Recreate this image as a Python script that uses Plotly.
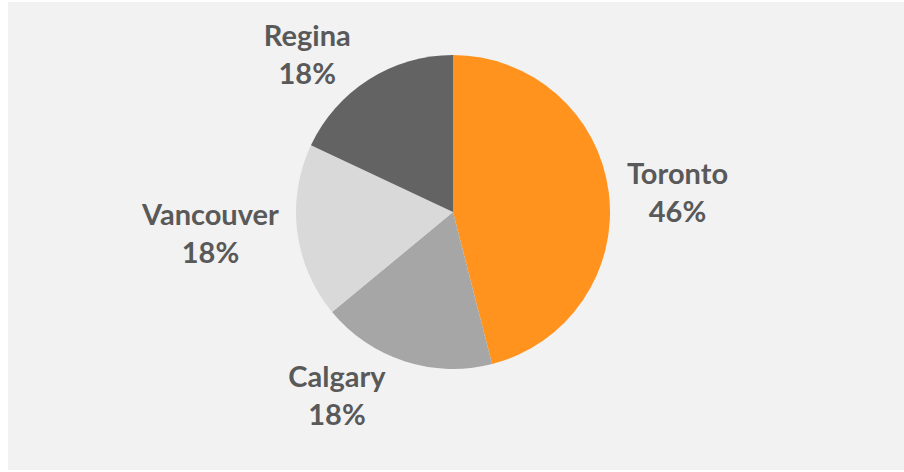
import plotly.graph_objects as go

cities = ["Toronto", "Calgary", "Vancouver", "Regina"]
shares = [46, 18, 18, 18]
colors = ["#ff931e", "#a6a6a6", "#d9d9d9", "#636363"]

W, H = 904, 472
cx, cy, r = 453, 212, 157  # pie centre and radius in px

fig = go.Figure(
    go.Pie(
        labels=cities,
        values=shares,
        sort=False,
        direction="clockwise",
        rotation=0,
        marker=dict(colors=colors, line=dict(width=0)),
        texttemplate="<b>%{label}<br>%{percent:.0%}</b>",
        textposition="outside",
        textfont=dict(family="Lato", size=29, color="#595959"),
        automargin=False,
        showlegend=False,
        hoverinfo="skip",
        domain=dict(
            x=[(cx - r) / W, (cx + r) / W],
            y=[1 - (cy + r) / H, 1 - (cy - r) / H],
        ),
    )
)

# grey chart panel
fig.add_shape(
    type="rect", xref="paper", yref="paper",
    x0=8 / W, x1=1, y0=2 / H, y1=1 - 2 / H,
    fillcolor="#f2f2f2", line=dict(width=0), layer="below",
)

fig.update_layout(
    width=W,
    height=H,
    margin=dict(l=0, r=0, t=0, b=0),
    paper_bgcolor="white",
    plot_bgcolor="white",
)

fig.write_html(
    "out.html",
    config={"displayModeBar": False},
    post_script="document.body.style.margin = '0px';",
)
